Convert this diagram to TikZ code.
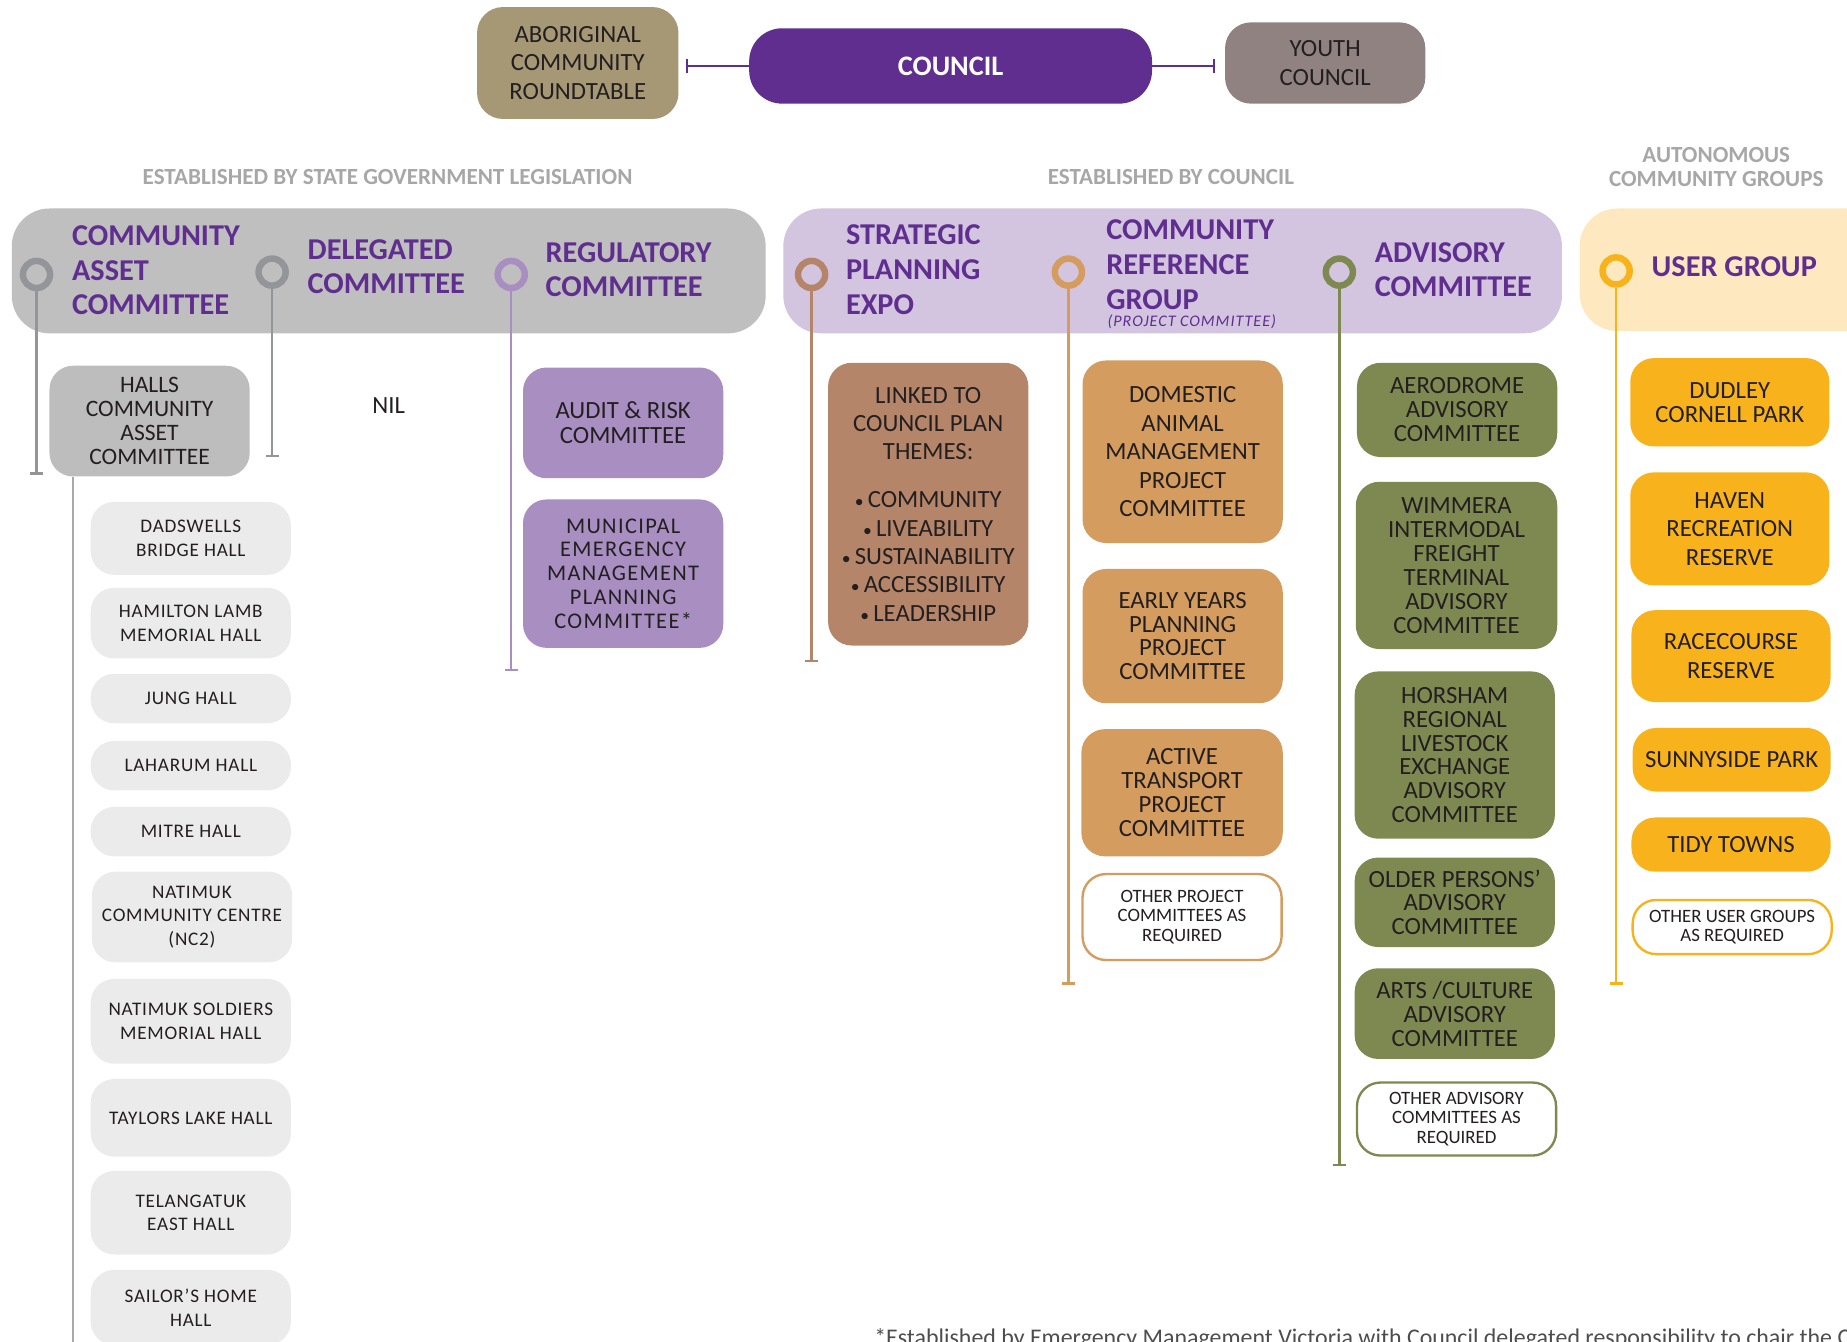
\documentclass[tikz,border=0pt]{standalone}
\usepackage{fontspec}
\setmainfont{Carlito}
\newfontfamily\hallfam[LetterSpace=4]{Carlito}
\newfontfamily\mepfam[LetterSpace=6]{Carlito}
\newfontfamily\pcfam[LetterSpace=6]{Carlito}
\usetikzlibrary{arrows.meta}
\newcommand\setfs[2]{\fontsize{#1}{#2}\selectfont}
\newcommand\smbul{{\setfs{15}{15}•}\,}
\definecolor{cpurple}{HTML}{5F2E8F}
\definecolor{caborig}{HTML}{A69775}
\definecolor{cyouth}{HTML}{8F8280}
\definecolor{clabel}{HTML}{A7A7A7}
\definecolor{cgrayband}{HTML}{C0BFC0}
\definecolor{clilacband}{HTML}{D3C5E0}
\definecolor{ccream}{HTML}{FEE8C0}
\definecolor{cgrayring}{HTML}{939598}
\definecolor{clilac}{HTML}{A98EC1}
\definecolor{cbrown}{HTML}{B5856A}
\definecolor{corange}{HTML}{D49C5F}
\definecolor{cgreen}{HTML}{7E8952}
\definecolor{cyellow}{HTML}{F8B31C}
\definecolor{challsc}{HTML}{BDBDBD}
\definecolor{chall}{HTML}{EBEBEB}
\definecolor{chline}{HTML}{A7A9AC}
\definecolor{ctext}{HTML}{231F20}
\definecolor{cfoot}{HTML}{4D4D4D}
\begin{document}
\begin{tikzpicture}[x=1pt,y=-1pt,
  bx/.style={rounded corners=20pt, inner sep=0pt, align=center, text=ctext, font=\setfs{21}{20.3}},
  wide/.style={font=\setfs{21}{24}},
  hallbox/.style={bx, fill=chall, minimum width=170pt, font=\hallfam\setfs{16.3}{20}},
  otherbox/.style={bx, fill=white, line width=2pt, font=\setfs{16}{16.5}},
  lbl/.style={text=clabel, font=\bfseries\setfs{19.6}{20}, inner sep=0pt, align=center},
  band/.style={rounded corners=32pt, inner sep=0pt},
  ring/.style={circle, line width=5.5pt, minimum size=23pt, inner sep=0pt},
  hdr/.style={text=cpurple, font=\bfseries\setfs{25.7}{29.5}, align=left, anchor=west, inner sep=0pt},
  vln/.style={line width=2pt, -{Bar[width=11pt]}},
  conn/.style={line width=2pt, -{Bar[width=12pt]}}
]
\useasboundingbox (0,0) rectangle (1568,1139);
\clip (0,0) rectangle (1568,1139);

% top row
\node[bx, wide, fill=caborig, minimum width=171pt, minimum height=95pt, rounded corners=22pt] (abor) at (490.5,53.5) {ABORIGINAL\\COMMUNITY\\ROUNDTABLE};
\node[bx, fill=cpurple, text=white, minimum width=342pt, minimum height=64pt, rounded corners=28pt, font=\bfseries\setfs{24}{28}] (council) at (807,56) {COUNCIL};
\node[bx, wide, fill=cyouth, minimum width=170pt, minimum height=69pt, rounded corners=22pt] (youth) at (1125,53.5) {YOUTH\\COUNCIL};
\draw[conn, cpurple, shorten >=6pt] (council.west) -- (council.west -| abor.east);
\draw[conn, cpurple, shorten >=8pt] (council.east) -- (council.east -| youth.west);

% section labels
\node[lbl] (l1) at (329,150) {ESTABLISHED BY STATE GOVERNMENT LEGISLATION};
\node[lbl] (l2) at (994,150) {ESTABLISHED BY COUNCIL};
\node[lbl] (l3) at (1457,142) {AUTONOMOUS\\COMMUNITY GROUPS};

% bands
\node[band, fill=cgrayband, minimum width=640pt, minimum height=106pt] (b1) at (330,230) {};
\node[band, fill=clilacband, minimum width=661pt, minimum height=106pt] (b2) at (995.5,230) {};
\node[band, fill=ccream, minimum width=280pt, minimum height=104pt] (b3) at (1481,229) {};

% rings
\node[ring, draw=cgrayring] (r1) at (31,233) {};
\node[ring, draw=cgrayring] (r2) at (231,231) {};
\node[ring, draw=clilac] (r3) at (434,233) {};
\node[ring, draw=cbrown] (r4) at (689,233) {};
\node[ring, draw=corange] (r5) at (907,231) {};
\node[ring, draw=cgreen] (r6) at (1137,231) {};
\node[ring, draw=cyellow] (r7) at (1372,230) {};

% headers
\node[hdr] (h1) at (61,229.5) {COMMUNITY\\ASSET\\COMMITTEE};
\node[hdr] (h2) at (261,226.5) {DELEGATED\\COMMITTEE};
\node[hdr] (h3) at (463,229) {REGULATORY\\COMMITTEE};
\node[hdr] (h4) at (718,229) {STRATEGIC\\PLANNING\\EXPO};
\node[hdr] (h5) at (939,224.5) {COMMUNITY\\REFERENCE\\GROUP};
\node[anchor=west, inner sep=0pt, text=cpurple, font=\pcfam\itshape\setfs{13.7}{14}] (h5b) at (940,273) {(PROJECT COMMITTEE)};
\node[hdr] (h6) at (1167,229) {ADVISORY\\COMMITTEE};
\node[hdr] (h7) at (1402,226) {USER GROUP};

% vertical lines from rings
\coordinate (e1) at (31,403);
\coordinate (e2) at (231,388);
\coordinate (e3) at (434,570);
\coordinate (e4) at (689,562);
\coordinate (e5) at (907,836);
\coordinate (e6) at (1137,990);
\coordinate (e7) at (1372,836);
\draw[vln, cgrayring] (r1.south) -- (e1);
\draw[vln, cgrayring] (r2.south) -- (e2);
\draw[vln, clilac] (r3.south) -- (e3);
\draw[vln, cbrown] (r4.south) -- (e4);
\draw[vln, corange] (r5.south) -- (e5);
\draw[vln, cgreen] (r6.south) -- (e6);
\draw[vln, cyellow] (r7.south) -- (e7);

% community asset committee column
\node[bx, fill=challsc, minimum width=170pt, minimum height=94pt, font=\setfs{20}{20.5}] (hallsc) at (127,357.5) {HALLS\\COMMUNITY\\ASSET\\COMMITTEE};
\coordinate (hend) at (62,1145);
\draw[line width=2pt, chline] (hallsc.south -| hend) -- (hend);
\node[hallbox, minimum height=62pt] (d1) at (162,457) {DADSWELLS\\BRIDGE HALL};
\node[hallbox, minimum height=60pt] (d2) at (162,529) {HAMILTON LAMB\\MEMORIAL HALL};
\node[hallbox, minimum height=42pt] (d3) at (162,593) {JUNG HALL};
\node[hallbox, minimum height=42pt] (d4) at (162,650) {LAHARUM HALL};
\node[hallbox, minimum height=42pt] (d5) at (162,706) {MITRE HALL};
\node[hallbox, minimum height=77pt] (d6) at (163,778.5) {NATIMUK\\COMMUNITY CENTRE\\(NC2)};
\node[hallbox, minimum height=72pt] (d7) at (162,867) {NATIMUK SOLDIERS\\MEMORIAL HALL};
\node[hallbox, minimum height=66pt] (d8) at (162,949) {TAYLORS LAKE HALL};
\node[hallbox, minimum height=71pt] (d9) at (162,1029.5) {TELANGATUK\\EAST HALL};
\node[hallbox, minimum height=64pt] (d10) at (162,1110) {SAILOR’S HOME\\HALL};

% delegated
\node[font=\setfs{21}{24}, text=ctext, inner sep=0pt] (nil) at (330,344) {NIL};

% regulatory
\node[bx, fill=clilac, minimum width=170pt, minimum height=94pt, font=\setfs{21}{21}] (reg1) at (529,359) {AUDIT \& RISK\\COMMITTEE};
\node[bx, fill=clilac, minimum width=170pt, minimum height=126pt, font=\mepfam\setfs{19}{20.3}] (reg2) at (529,487) {MUNICIPAL\\EMERGENCY\\MANAGEMENT\\PLANNING\\COMMITTEE*};

% strategic planning expo
\node[bx, wide, fill=cbrown, minimum width=170pt, minimum height=240pt] (st) at (788,428) {LINKED TO\\COUNCIL PLAN\\THEMES:\\[17pt]\smbul COMMUNITY\\\smbul LIVEABILITY\\\smbul SUSTAINABILITY\\\smbul ACCESSIBILITY\\\smbul LEADERSHIP};

% community reference group
\node[bx, fill=corange, minimum width=170pt, minimum height=155pt, font=\setfs{21}{24.3}] (o1) at (1004,383.5) {DOMESTIC\\ANIMAL\\MANAGEMENT\\PROJECT\\COMMITTEE};
\node[bx, fill=corange, minimum width=170pt, minimum height=114pt] (o2) at (1004,540) {EARLY YEARS\\PLANNING\\PROJECT\\COMMITTEE};
\node[bx, fill=corange, minimum width=171pt, minimum height=108pt] (o3) at (1003.5,673) {ACTIVE\\TRANSPORT\\PROJECT\\COMMITTEE};
\node[otherbox, draw=corange, minimum width=169pt, minimum height=73pt] (o4) at (1003.5,778.5) {OTHER PROJECT\\COMMITTEES AS\\REQUIRED};

% advisory
\node[bx, fill=cgreen, minimum width=170pt, minimum height=80pt] (g1) at (1237,348) {AERODROME\\ADVISORY\\COMMITTEE};
\node[bx, fill=cgreen, minimum width=171pt, minimum height=142pt] (g2) at (1236.5,480) {WIMMERA\\INTERMODAL\\FREIGHT\\TERMINAL\\ADVISORY\\COMMITTEE};
\node[bx, fill=cgreen, minimum width=170pt, minimum height=142pt] (g3) at (1235,641) {HORSHAM\\REGIONAL\\LIVESTOCK\\EXCHANGE\\ADVISORY\\COMMITTEE};
\node[bx, fill=cgreen, minimum width=170pt, minimum height=76pt] (g4) at (1235,766) {OLDER PERSONS’\\ADVISORY\\COMMITTEE};
\node[bx, fill=cgreen, minimum width=170pt, minimum height=77pt] (g5) at (1235,860.5) {ARTS /CULTURE\\ADVISORY\\COMMITTEE};
\node[otherbox, draw=cgreen, minimum width=169pt, minimum height=62pt] (g6) at (1236.5,950) {OTHER ADVISORY\\COMMITTEES AS\\REQUIRED};

% user groups
\node[bx, fill=cyellow, minimum width=169pt, minimum height=75pt] (y1) at (1468.5,341.5) {DUDLEY\\CORNELL PARK};
\node[bx, wide, fill=cyellow, minimum width=169pt, minimum height=96pt] (y2) at (1468.5,449) {HAVEN\\RECREATION\\RESERVE};
\node[bx, wide, fill=cyellow, minimum width=169pt, minimum height=78pt] (y3) at (1469.5,557) {RACECOURSE\\RESERVE};
\node[bx, fill=cyellow, minimum width=168pt, minimum height=54pt] (y4) at (1470,645) {SUNNYSIDE PARK};
\node[bx, fill=cyellow, minimum width=169pt, minimum height=46pt] (y5) at (1469.5,717) {TIDY TOWNS};
\node[otherbox, draw=cyellow, minimum width=169pt, minimum height=46pt] (y6) at (1470.5,787) {OTHER USER GROUPS\\AS REQUIRED};

% footnote (cut off by the picture's edge, as in the reference)
\node[anchor=base west, inner sep=0pt, text=cfoot, font=\setfs{20.3}{22}] (fn) at (742,1142) {*Established by Emergency Management Victoria with Council delegated responsibility to chair the Committee};
\end{tikzpicture}
\end{document}
